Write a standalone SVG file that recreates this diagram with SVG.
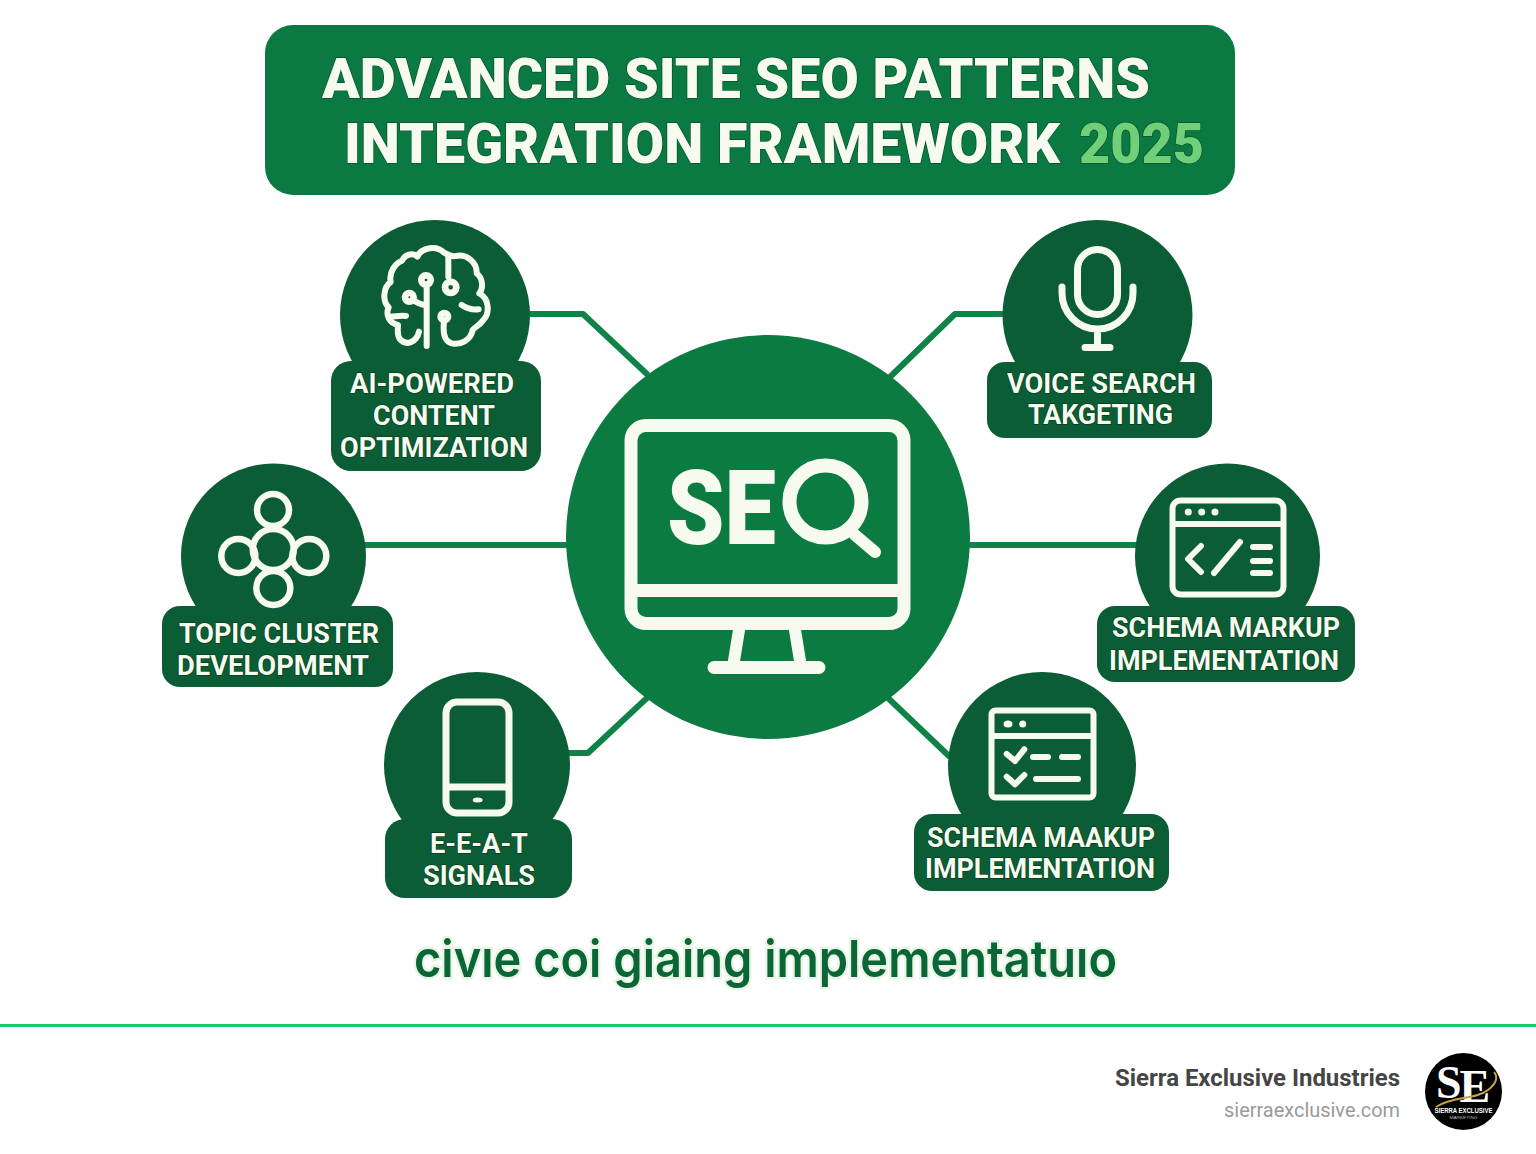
<svg xmlns="http://www.w3.org/2000/svg" width="1536" height="1154" viewBox="0 0 1536 1154">
<style>
.body{fill:#0a5d34}
.hub{fill:#0b7b41}
.ic{fill:none;stroke:#f6faef;stroke-linecap:round;stroke-linejoin:round}
.lb{font-family:Roboto,"Liberation Sans",sans-serif;font-weight:700;font-size:28px;fill:#f6faef;stroke:#04411f;stroke-width:1.4px;paint-order:stroke}
.tt{font-family:Roboto,"Liberation Sans",sans-serif;font-weight:900;font-size:56px;fill:#f7fbef;stroke:#05532b;stroke-width:1.5px;paint-order:stroke}
.cn{fill:none;stroke:#0f8347;stroke-width:6;stroke-linejoin:round}
</style>
<rect width="1536" height="1154" fill="#fff"/>
<g id="title">
<rect x="265" y="25" width="970" height="170" rx="28" fill="#0a7a42"/>
<text class="tt" x="322" y="98" textLength="828" lengthAdjust="spacingAndGlyphs">ADVANCED SITE SEO PATTERNS</text>
<text class="tt" x="344" y="163" textLength="716" lengthAdjust="spacingAndGlyphs">INTEGRATION FRAMEWORK</text>
<text class="tt" x="1079" y="163" textLength="125" lengthAdjust="spacingAndGlyphs" style="fill:#70cf78">2025</text>
</g>
<g id="connectors">
<path class="cn" d="M528 314H583L648 375"/>
<path class="cn" d="M1005 314H955L890 377"/>
<path class="cn" d="M364 545H570"/>
<path class="cn" d="M968 545H1138"/>
<path class="cn" d="M888 698L950 757"/>
<path class="cn" d="M568 753H588L648 697"/>
</g>
<g id="hub-seo">
<circle class="hub" cx="768" cy="537" r="202"/>
<rect class="ic" x="631" y="425.500" width="273" height="198" rx="15" stroke-width="13"/>
<path class="ic" d="M634 590.500H901" stroke-width="13" stroke-linecap="butt"/>
<path class="ic" d="M739 630L733 667M795 630L801 667" stroke-width="12" stroke-linecap="butt"/>
<path class="ic" d="M714 667.500H819" stroke-width="13"/>
<text x="667" y="544" textLength="109" lengthAdjust="spacingAndGlyphs" font-family="Roboto,'Liberation Sans',sans-serif" font-weight="900" font-size="104" fill="#f6faef">SE</text>
<circle class="ic" cx="825.500" cy="501.500" r="36" stroke-width="14"/>
<path class="ic" d="M855 535L875 552" stroke-width="12"/>
</g>
<g id="node-ai">
<circle class="body" cx="435" cy="315" r="95"/>
<rect class="body" x="331" y="361" width="210" height="110" rx="20"/>
<g transform="translate(320 210) scale(.33333)">
<path class="ic" stroke-width="18" d="M297 365C290 398 258 408 240 388C230 375 234 358 234 345C208 340 196 315 206 292C186 272 190 232 212 216C206 186 226 160 246 152C258 128 282 130 292 140C305 112 350 105 372 128C385 135 395 142 408 138C440 130 472 158 470 190C490 205 490 235 478 250C508 265 510 310 490 330C478 348 465 350 458 360C452 392 420 406 395 400C372 394 368 370 372 335"/>
<path class="ic" stroke-width="18" d="M212 320C225 320 240 316 258 318M385 140V200M425 285C440 295 458 300 476 298M320 230V408M282 272C295 280 305 285 317 285"/>
<circle class="ic" cx="318" cy="210" r="14" stroke-width="20"/>
<circle class="ic" cx="392" cy="232" r="17" stroke-width="20"/>
<circle class="ic" cx="268" cy="262" r="13" stroke-width="20"/>
<circle class="ic" cx="373" cy="320" r="11" stroke-width="20"/>
</g>
<text class="lb" x="350" y="393" textLength="164" lengthAdjust="spacingAndGlyphs">AI-POWERED</text>
<text class="lb" x="373" y="425" textLength="122" lengthAdjust="spacingAndGlyphs">CONTENT</text>
<text class="lb" x="340" y="457" textLength="188" lengthAdjust="spacingAndGlyphs">OPTIMIZATION</text>
</g>
<g id="node-voice">
<circle class="body" cx="1097.500" cy="315" r="95"/>
<rect class="body" x="987" y="362" width="225" height="76" rx="18"/>
<rect class="ic" x="1077.500" y="249.500" width="40" height="65" rx="20" stroke-width="7"/>
<path class="ic" stroke-width="7" d="M1062 287V293A35.500 36 0 0 0 1133 293V287M1097.500 330V347M1085 347.500H1110"/>
<text class="lb" x="1007" y="393" textLength="189" lengthAdjust="spacingAndGlyphs">VOICE SEARCH</text>
<text class="lb" x="1028" y="424" textLength="145" lengthAdjust="spacingAndGlyphs">TAKGETING</text>
</g>
<g id="node-topic">
<circle class="body" cx="273.500" cy="556" r="92.500"/>
<rect class="body" x="162" y="606" width="231" height="81" rx="18"/>
<g class="ic" stroke-width="6.500">
<circle cx="273" cy="510" r="16"/>
<circle cx="273.300" cy="549.500" r="20.500"/>
<circle cx="238.300" cy="556" r="17"/>
<circle cx="309.300" cy="556" r="17"/>
<circle cx="273.300" cy="588" r="17"/>
</g>
<text class="lb" x="179" y="643" textLength="200" lengthAdjust="spacingAndGlyphs">TOPIC CLUSTER</text>
<text class="lb" x="177" y="675" textLength="192" lengthAdjust="spacingAndGlyphs">DEVELOPMENT</text>
</g>
<g id="node-schema-code">
<circle class="body" cx="1227.500" cy="556" r="92.500"/>
<rect class="body" x="1097" y="606" width="258" height="76" rx="18"/>
<rect class="ic" x="1172.500" y="500.500" width="111" height="94" rx="8" stroke-width="6"/>
<path class="ic" stroke-width="6" stroke-linecap="butt" d="M1173 524H1283"/>
<g fill="#f6faef"><circle cx="1188.300" cy="512" r="3.500"/><circle cx="1201.700" cy="512" r="3.500"/><circle cx="1215" cy="512" r="3.500"/></g>
<path class="ic" stroke-width="6" d="M1201 546L1188 559L1201 572M1240 542L1214 573M1253 547H1270M1253 561H1270M1253 573H1270"/>
<text class="lb" x="1112" y="637" textLength="228" lengthAdjust="spacingAndGlyphs">SCHEMA MARKUP</text>
<text class="lb" x="1109" y="670" textLength="230" lengthAdjust="spacingAndGlyphs">IMPLEMENTATION</text>
</g>
<g id="node-schema-check">
<circle class="body" cx="1042" cy="766" r="94"/>
<rect class="body" x="914" y="814" width="255" height="77" rx="18"/>
<rect class="ic" x="991.500" y="710.500" width="102" height="87" rx="4" stroke-width="6"/>
<path class="ic" stroke-width="6" stroke-linecap="butt" d="M993 736H1092"/>
<g fill="#f6faef"><ellipse cx="1008" cy="724" rx="4.500" ry="3.500"/><circle cx="1022.700" cy="724" r="3.500"/></g>
<path class="ic" stroke-width="6" d="M1006.700 754L1015 761L1024.300 749.300M1033 757H1048M1062 757H1078M1006.700 776.700L1015 784.300L1024.300 775M1036 779H1078"/>
<text class="lb" x="927" y="847" textLength="228" lengthAdjust="spacingAndGlyphs">SCHEMA MAAKUP</text>
<text class="lb" x="925" y="878" textLength="230" lengthAdjust="spacingAndGlyphs">IMPLEMENTATION</text>
</g>
<g id="node-eeat">
<circle class="body" cx="477" cy="765" r="93"/>
<rect class="body" x="385" y="819" width="187" height="79" rx="20"/>
<rect class="ic" x="446" y="702" width="63" height="111" rx="11" stroke-width="7"/>
<path class="ic" stroke-width="7" stroke-linecap="butt" d="M448 787H507"/>
<ellipse cx="477.700" cy="800" rx="5" ry="2.500" fill="#f6faef"/>
<text class="lb" x="430" y="853" textLength="98" lengthAdjust="spacingAndGlyphs">E-E-A-T</text>
<text class="lb" x="423" y="885" textLength="112" lengthAdjust="spacingAndGlyphs">SIGNALS</text>
</g>
<text x="414" y="977" textLength="703" lengthAdjust="spacingAndGlyphs" font-family="Inter,'Noto Sans',sans-serif" font-weight="600" font-size="51" fill="#0a6636" stroke="#e9f6e6" stroke-width="5" paint-order="stroke">civıe coi giaing implementatuıo</text>
<rect x="0" y="1024" width="1536" height="3" fill="#1fc76a"/>
<text x="1400" y="1086" text-anchor="end" font-family="Roboto,'Liberation Sans',sans-serif" font-weight="700" font-size="24" textLength="285" lengthAdjust="spacingAndGlyphs" fill="#454545">Sierra Exclusive Industries</text>
<text x="1400" y="1117" text-anchor="end" font-family="Roboto,'Liberation Sans',sans-serif" font-size="21" textLength="176" lengthAdjust="spacingAndGlyphs" fill="#9a9a9a">sierraexclusive.com</text>
<g id="logo">
<circle cx="1463.500" cy="1091.500" r="38.500" fill="#000"/>
<text x="1436" y="1098" font-family="'Liberation Serif',serif" font-weight="700" font-size="46" fill="#fff">S<tspan dy="4" dx="-2">E</tspan></text>
<path d="M1436 1107C1452 1096 1475 1100 1488 1090C1497 1083 1498 1077 1494 1072" fill="none" stroke="#c9a24a" stroke-width="2"/>
<text x="1463.500" y="1113" text-anchor="middle" textLength="58" lengthAdjust="spacingAndGlyphs" font-family="'Liberation Sans',sans-serif" font-weight="700" font-size="6.500" fill="#fff">SIERRA EXCLUSIVE</text>
<text x="1463.500" y="1119" text-anchor="middle" textLength="28" lengthAdjust="spacingAndGlyphs" font-family="'Liberation Sans',sans-serif" font-size="3.500" fill="#bbb">MARKETING</text>
</g>
</svg>
